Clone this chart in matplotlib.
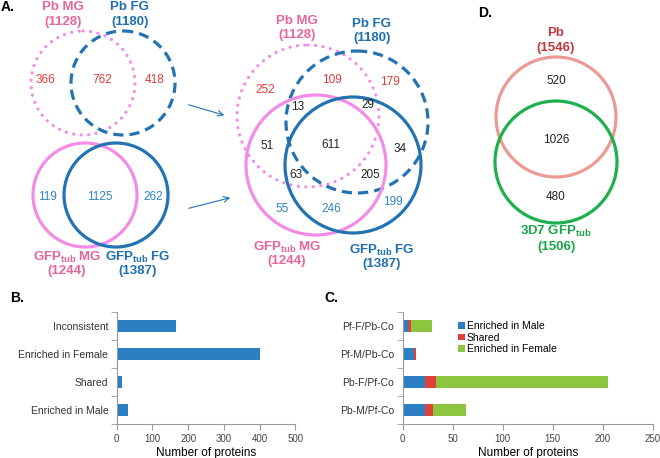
import numpy as np
import matplotlib
matplotlib.use("Agg")
import matplotlib.pyplot as plt
from matplotlib.patches import Circle

plt.rcParams["font.family"] = ["Liberation Sans", "DejaVu Sans"]
plt.rcParams["mathtext.fontset"] = "custom"
plt.rcParams["mathtext.rm"] = "Liberation Sans"
plt.rcParams["mathtext.bf"] = "Liberation Sans:bold"

# ---- data ----
pb_mg_size, pb_fg_size = 1128, 1180
gfp_mg_size, gfp_fg_size = 1244, 1387
pb_counts = [366, 762, 418]
gfp_counts = [119, 1125, 262]
four_red = [252, 109, 179]
four_black = [13, 29, 51, 611, 34, 63, 205]
four_blue = [55, 246, 199]
d_pb_size, d_gfp_size = 1546, 1506
d_counts = [520, 1026, 480]

b_cats = ["Enriched in Male", "Shared", "Enriched in Female", "Inconsistent"]
b_vals = [33, 14, 400, 166]

c_cats = ["Pb-M/Pf-Co", "Pb-F/Pf-Co", "Pf-M/Pb-Co", "Pf-F/Pb-Co"]
c_male = [22, 22, 11, 5]
c_shared = [8, 11, 2, 3]
c_female = [33, 172, 0, 21]

# ---- colours ----
PINK_LINE = "#f28ce8"
PINK_TXT = "#e8649c"
BLUE_LINE = "#2373b3"
BLUE_TXT = "#1f6fae"
BLUE_NUM = "#2f86c2"
RED_NUM = "#e23c35"
BAR_BLUE = "#2d7fc3"
BAR_RED = "#e0413c"
BAR_GREEN = "#8cc63f"

fig = plt.figure(figsize=(6.6, 4.58), dpi=100)
bg = fig.add_axes([0, 0, 1, 1])
bg.set_xlim(0, 660)
bg.set_ylim(458, 0)
bg.axis("off")


def circ(x, y, r, color, style="solid", lw=2.3):
    if style == "dotted":
        ls = (0, (0.05, 2.3))
    elif style == "dashed":
        ls = (0, (3.2, 1.9))
    else:
        ls = "solid"
    c = Circle((x, y), r, fill=False, edgecolor=color, linewidth=lw, linestyle=ls)
    c.set_capstyle("round" if style == "dotted" else "butt")
    bg.add_patch(c)


def num(x, y, v, color, size=8.5):
    bg.text(x, y, str(v), color=color, fontsize=size, ha="center", va="center", zorder=5)


def label(x, y, name, n, color, size=9.5, gap=15):
    bg.text(x, y, name, color=color, fontsize=size, fontweight="bold", ha="center", va="center")
    bg.text(x, y + gap, "({})".format(n), color=color, fontsize=size, fontweight="bold",
            ha="center", va="center")


gfp = r"GFP$_{\mathbf{tub}}$"

# panel labels
bg.text(1, 7, "A.", fontsize=10, fontweight="bold", va="center")
bg.text(478, 13, "D.", fontsize=10, fontweight="bold", va="center")
bg.text(10, 298, "B.", fontsize=10, fontweight="bold", va="center")
bg.text(324, 298, "C.", fontsize=10, fontweight="bold", va="center")

# A: top-left Pb venn
circ(83, 83, 52, PINK_LINE, "dotted")
circ(123, 83, 52, BLUE_LINE, "dashed")
label(63, 7, "Pb MG", pb_mg_size, PINK_TXT)
label(130, 7, "Pb FG", pb_fg_size, BLUE_TXT)
for x, v in zip([45, 102, 155], pb_counts):
    num(x, 80, v, RED_NUM)

# A: bottom-left GFP venn
circ(85, 195, 52, PINK_LINE)
circ(116, 195, 52, BLUE_LINE)
label(67, 257, gfp + " MG", gfp_mg_size, PINK_TXT, gap=14)
label(138, 257, gfp + " FG", gfp_fg_size, BLUE_TXT, gap=14)
for x, v in zip([47, 100, 153], gfp_counts):
    num(x, 197, v, BLUE_NUM)

# arrows
bg.annotate("", xy=(227, 116), xytext=(186, 104),
            arrowprops=dict(arrowstyle="->", color=BLUE_LINE, lw=0.8))
bg.annotate("", xy=(233, 197), xytext=(186, 209),
            arrowprops=dict(arrowstyle="->", color=BLUE_LINE, lw=0.8))

# A: four-way venn
circ(308, 116, 71, PINK_LINE, "dotted")
circ(357, 122, 71, BLUE_LINE, "dashed")
circ(316, 165, 70, PINK_LINE)
circ(353, 165, 68, BLUE_LINE)
label(297, 21, "Pb MG", pb_mg_size, PINK_TXT, gap=14)
label(372, 24, "Pb FG", pb_fg_size, BLUE_TXT, gap=14)
label(287, 247, gfp + " MG", gfp_mg_size, PINK_TXT, gap=14)
label(382, 250, gfp + " FG", gfp_fg_size, BLUE_TXT, gap=14)
for (x, y), v in zip([(265, 90), (332, 80), (390, 82)], four_red):
    num(x, y, v, RED_NUM)
black_pos = [(298, 107), (368, 105), (267, 146), (331, 145), (400, 149), (296, 175), (370, 175)]
for (x, y), v in zip(black_pos, four_black):
    num(x, y, v, "#222222")
for (x, y), v in zip([(282, 209), (331, 209), (393, 202)], four_blue):
    num(x, y, v, BLUE_NUM)

# D
circ(556, 117, 60, "#ec9a94")
circ(556, 162, 61, "#1db04c")
label(556, 33, "Pb", d_pb_size, "#c0393a")
label(556, 231, "3D7 " + gfp, d_gfp_size, "#1aa548", gap=16)
for y, v in zip([81, 140, 197], d_counts):
    num(556, y, v, "#222222")


def style_bar_axes(ax, cats, xmax, step):
    ax.set_xlim(0, xmax)
    ax.set_ylim(-0.5, len(cats) - 0.5)
    ax.set_xticks(np.arange(0, xmax + 1, step))
    ax.set_yticks(range(len(cats)))
    ax.set_yticklabels(cats)
    ax.set_yticks(np.arange(-0.5, len(cats), 1), minor=True)
    ax.tick_params(axis="y", which="major", length=0, labelsize=7.5, pad=6, colors="#333333")
    ax.tick_params(axis="y", which="minor", length=4, color="#999999", direction="out")
    ax.tick_params(axis="x", length=4, color="#999999", labelsize=7, colors="#444444")
    for s in ["top", "right"]:
        ax.spines[s].set_visible(False)
    for s in ["left", "bottom"]:
        ax.spines[s].set_color("#999999")
        ax.spines[s].set_linewidth(0.8)
    ax.set_xlabel("Number of proteins", fontsize=8.5, labelpad=2)


# B
axb = fig.add_axes([116.7 / 660, 1 - 424 / 458, 178.6 / 660, 112 / 458])
axb.barh(range(len(b_cats)), b_vals, height=0.42, color=BAR_BLUE)
style_bar_axes(axb, b_cats, 500, 100)

# C
axc = fig.add_axes([402.7 / 660, 1 - 424 / 458, 250 / 660, 112 / 458])
y = np.arange(len(c_cats))
male = np.array(c_male)
shared = np.array(c_shared)
female = np.array(c_female)
axc.barh(y, male, height=0.42, color=BAR_BLUE, label="Enriched in Male")
axc.barh(y, shared, left=male, height=0.42, color=BAR_RED, label="Shared")
axc.barh(y, female, left=male + shared, height=0.42, color=BAR_GREEN, label="Enriched in Female")
style_bar_axes(axc, c_cats, 250, 50)
axc.legend(loc="upper left", bbox_to_anchor=(0.202, 0.965), frameon=False, fontsize=7.5,
           handlelength=0.6, handleheight=0.6, handletextpad=0.2, labelspacing=0.15,
           borderpad=0)

fig.savefig("out.png", dpi=100)
